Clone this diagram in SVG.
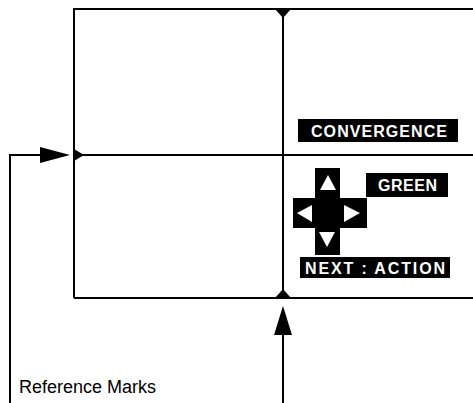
<svg xmlns="http://www.w3.org/2000/svg" width="473" height="403" viewBox="0 0 473 403">
<style>
.ln{stroke:#000;stroke-width:2;fill:none}
.lbl{fill:#000}
.lt{font-family:"Liberation Sans",Arial,sans-serif;font-weight:bold;font-size:16px;fill:#fff}
.rt{font-family:"Liberation Sans",Arial,sans-serif;font-size:18px;fill:#000}
</style>
<rect width="473" height="403" fill="#fff"/>
<g id="screen">
<path class="ln" d="M74,298 V9 H473"/>
<path class="ln" d="M74,298 H473"/>
<path class="ln" d="M283,9 V298"/>
<path class="ln" d="M74,155 H473"/>
<polygon points="275,9 291,9 283,18" fill="#000"/>
<polygon points="275,298 291,298 283,289" fill="#000"/>
<polygon points="74,149 74,161 84,155" fill="#000"/>
</g>
<g id="convergence">
<rect class="lbl" x="298" y="119" width="160" height="23"/>
<text class="lt" x="311" y="136.5" textLength="136" lengthAdjust="spacing">CONVERGENCE</text>
</g>
<g id="green">
<rect class="lbl" x="366" y="173" width="82" height="24"/>
<text class="lt" x="378" y="191" textLength="59" lengthAdjust="spacing">GREEN</text>
</g>
<g id="dpad">
<rect x="315" y="168" width="25" height="87" fill="#000"/>
<rect x="293" y="198" width="74" height="30" fill="#000"/>
<polygon points="328,175 320,190 336,190" fill="#fff"/>
<polygon points="297,213 312,205 312,222" fill="#fff"/>
<polygon points="360,213 344,205 344,222" fill="#fff"/>
<polygon points="327,247 319,232 335,232" fill="#fff"/>
</g>
<g id="next-action">
<rect class="lbl" x="300" y="257" width="150" height="21"/>
<text class="lt" x="305" y="274" textLength="140" lengthAdjust="spacing">NEXT : ACTION</text>
</g>
<g id="reference-marks">
<text class="rt" x="19" y="393">Reference Marks</text>
</g>
<g id="connectors">
<path class="ln" d="M10,403 V155 H45"/>
<polygon points="40,147 70,155 40,163" fill="#000"/>
<path class="ln" d="M283,403 V330"/>
<polygon points="283,306 274,335 292,335" fill="#000"/>
</g>
</svg>
